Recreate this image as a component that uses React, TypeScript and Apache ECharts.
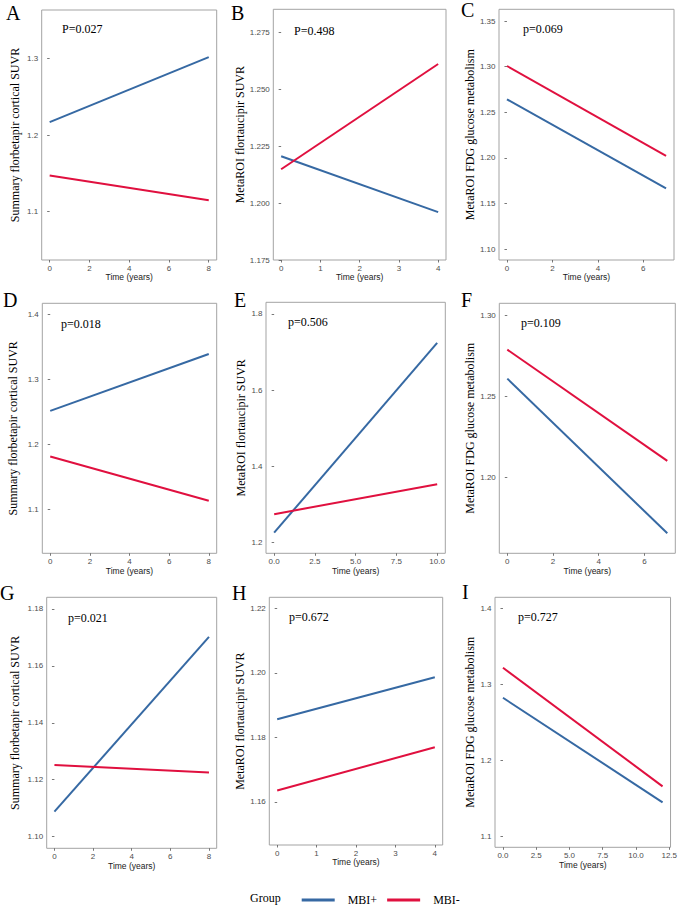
import React, { useEffect, useRef } from "react";
import * as echarts from "echarts";

// ---- data ----
const panelLetters = ["A", "B", "C", "D", "E", "F", "G", "H", "I"];
const pValues = ["P=0.027", "P=0.498", "p=0.069", "p=0.018", "p=0.506", "p=0.109", "p=0.021", "p=0.672", "p=0.727"];
const yTitles = [
  "Summary florbetapir cortical SUVR",
  "MetaROI flortaucipir SUVR",
  "MetaROI FDG glucose metabolism",
  "Summary florbetapir cortical SUVR",
  "MetaROI flortaucipir SUVR",
  "MetaROI FDG glucose metabolism",
  "Summary florbetapir cortical SUVR",
  "MetaROI flortaucipir SUVR",
  "MetaROI FDG glucose metabolism",
];
const groupNames = ["MBI+", "MBI-"];
const timeEnd = [8, 4, 7, 8, 10, 7, 8, 4, 12];
// fitted values at time 0 and at the last time point
const mbiPlus = [
  [1.2168, 1.3015],
  [1.2205, 1.196],
  [1.2643, 1.1665],
  [1.2512, 1.3385],
  [1.2252, 1.7243],
  [1.2609, 1.1658],
  [1.1088, 1.1702],
  [1.1856, 1.1986],
  [1.2825, 1.1452],
];
const mbiMinus = [
  [1.1472, 1.115],
  [1.2148, 1.261],
  [1.3008, 1.2022],
  [1.181, 1.113],
  [1.2739, 1.3527],
  [1.2787, 1.2103],
  [1.1252, 1.1225],
  [1.1635, 1.1769],
  [1.3219, 1.1662],
];
const yTicks = [
  [1.1, 1.2, 1.3],
  [1.175, 1.2, 1.225, 1.25, 1.275],
  [1.1, 1.15, 1.2, 1.25, 1.3, 1.35],
  [1.1, 1.2, 1.3, 1.4],
  [1.2, 1.4, 1.6, 1.8],
  [1.2, 1.25, 1.3],
  [1.1, 1.12, 1.14, 1.16, 1.18],
  [1.16, 1.18, 1.2, 1.22],
  [1.1, 1.2, 1.3, 1.4],
];
const yDecimals = [1, 3, 2, 1, 1, 2, 2, 2, 1];
const yRanges = [
  [1.037, 1.363],
  [1.175, 1.285],
  [1.088, 1.363],
  [1.0323, 1.4165],
  [1.171, 1.8307],
  [1.1535, 1.3072],
  [1.0959, 1.1841],
  [1.1466, 1.2234],
  [1.0861, 1.4145],
];
const xTicks = [
  [0, 2, 4, 6, 8],
  [0, 1, 2, 3, 4],
  [0, 2, 4, 6],
  [0, 2, 4, 6, 8],
  [0, 2.5, 5, 7.5, 10],
  [0, 2, 4, 6],
  [0, 2, 4, 6, 8],
  [0, 1, 2, 3, 4],
  [0, 2.5, 5, 7.5, 10, 12.5],
];
const xDecimals = [0, 0, 0, 0, 1, 0, 0, 0, 1];

// ---- layout ----
const gridBoxes = [
  [41.7, 10, 175, 250],
  [273.3, 9.3, 172.7, 250.7],
  [499, 9.3, 175, 250.7],
  [42.3, 303.3, 174.4, 250],
  [266, 302.3, 179.3, 251],
  [499.3, 303.3, 176, 250],
  [46.7, 597.3, 170, 251],
  [269.3, 597.3, 173.4, 247.7],
  [495, 597.3, 179.3, 250],
];
const yNameGaps = [21, 27, 23, 23, 15, 21.5, 25.5, 20, 17];
const pPos = [
  [62, 30], [294, 32], [523, 30],
  [61, 325], [288, 323], [521, 324],
  [68, 619], [289, 618], [518, 618],
];
const letterPos = [
  [6, 14], [231, 14], [461, 11],
  [3, 301], [234, 301], [461, 301],
  [0, 594], [232, 594], [462, 593],
];

const BLUE = "#3669A3";
const RED = "#E0103F";
const SERIF = "'Liberation Serif', 'Times New Roman', serif";
const SANS = "'Liberation Sans', Arial, sans-serif";

export default function App() {
  const ref = useRef<HTMLDivElement>(null);
  useEffect(() => {
    if (!ref.current) return;
    const chart = echarts.init(ref.current, null, { renderer: "svg" });
    const grid: any[] = [];
    const xAxis: any[] = [];
    const yAxis: any[] = [];
    const series: any[] = [];
    const graphic: any[] = [];
    for (let i = 0; i < 9; i++) {
      const [l, t, w, h] = gridBoxes[i];
      grid.push({
        left: l, top: t, width: w, height: h,
        show: true, borderColor: "#A3A3A3", borderWidth: 1, backgroundColor: "#fff",
      });
      const te = timeEnd[i];
      const xd = xDecimals[i];
      xAxis.push({
        type: "value", gridIndex: i,
        min: -0.05 * te, max: te * 1.05,
        axisLine: { show: false },
        axisTick: { show: true, length: 2.5, lineStyle: { color: "#555", width: 0.8 }, customValues: xTicks[i] },
        axisLabel: {
          customValues: xTicks[i], margin: 4, fontSize: 8, color: "#4D4D4D", fontFamily: SANS,
          formatter: (v: number) => v.toFixed(xd),
        },
        splitLine: { show: false },
        name: "Time (years)", nameLocation: "middle", nameGap: 12,
        nameTextStyle: { fontSize: 8.5, color: "#1a1a1a", fontFamily: SANS },
      });
      const yd = yDecimals[i];
      yAxis.push({
        type: "value", gridIndex: i,
        min: yRanges[i][0], max: yRanges[i][1],
        axisLine: { show: false },
        axisTick: { show: true, length: 2.5, lineStyle: { color: "#555", width: 0.8 }, customValues: yTicks[i] },
        axisLabel: {
          customValues: yTicks[i], margin: 3.5, fontSize: 8, color: "#4D4D4D", fontFamily: SANS,
          formatter: (v: number) => v.toFixed(yd),
        },
        splitLine: { show: false },
        name: yTitles[i], nameLocation: "middle", nameGap: yNameGaps[i],
        nameTextStyle: { fontSize: 12, color: "#000", fontFamily: SERIF },
      });
      series.push({
        type: "line", name: groupNames[0], xAxisIndex: i, yAxisIndex: i,
        data: [[0, mbiPlus[i][0]], [te, mbiPlus[i][1]]],
        symbol: "none", showSymbol: false,
        lineStyle: { color: BLUE, width: 2 }, itemStyle: { color: BLUE },
      });
      series.push({
        type: "line", name: groupNames[1], xAxisIndex: i, yAxisIndex: i,
        data: [[0, mbiMinus[i][0]], [te, mbiMinus[i][1]]],
        symbol: "none", showSymbol: false,
        lineStyle: { color: RED, width: 2 }, itemStyle: { color: RED },
      });
      graphic.push({
        type: "text", left: pPos[i][0], top: pPos[i][1] - 7,
        style: { text: pValues[i], font: `12px ${SERIF}`, fill: "#000" },
      });
      graphic.push({
        type: "text", left: letterPos[i][0], top: letterPos[i][1] - 11,
        style: { text: panelLetters[i], font: `20px ${SERIF}`, fill: "#000" },
      });
    }
    graphic.push({
      type: "text", left: 250, top: 892,
      style: { text: "Group", font: `12px ${SERIF}`, fill: "#000" },
    });
    chart.setOption({
      animation: false,
      backgroundColor: "#fff",
      grid, xAxis, yAxis, series, graphic,
      legend: {
        data: [
          { name: groupNames[0], itemStyle: { color: BLUE } },
          { name: groupNames[1], itemStyle: { color: RED } },
        ],
        left: 296.7, top: 889,
        icon: "rect", itemWidth: 33, itemHeight: 3, itemGap: 10,
        textStyle: { fontFamily: SERIF, fontSize: 12, color: "#000", padding: [0, 0, 0, 8] },
      },
    });
    return () => chart.dispose();
  }, []);
  return (
    <div
      ref={ref}
      style={{ position: "absolute", left: 0, top: 0, width: 680, height: 907, background: "#fff" }}
    />
  );
}
